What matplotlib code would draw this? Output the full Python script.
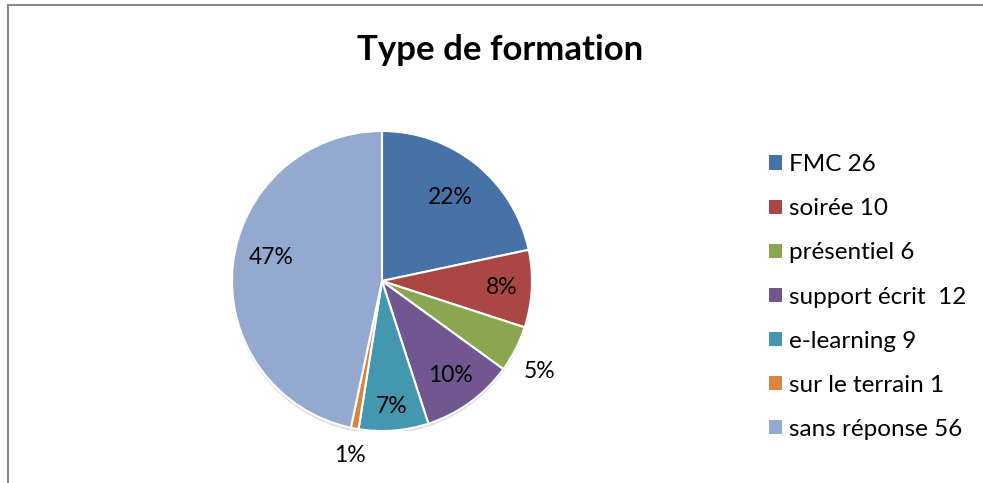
import numpy as np
import matplotlib.pyplot as plt
from matplotlib.lines import Line2D
from matplotlib.patches import Patch, Circle

plt.rcParams['font.family'] = ['Lato', 'DejaVu Sans']

# Data
categories = ['FMC 26', 'soirée 10', 'présentiel 6', 'support écrit  12',
              'e-learning 9', 'sur le terrain 1', 'sans réponse 56']
values = [26, 10, 6, 12, 9, 1, 56]
pct_labels = ['22%', '8%', '5%', '10%', '7%', '1%', '47%']
colors = ['#4672A8', '#AA4744', '#8AA650', '#71578F', '#4397AF', '#DB843D', '#94A9D0']

# label placement (fraction of radius, angle tweak in degrees)
label_radius = [0.72, 0.80, 1.21, 0.78, 0.84, 1.18, 0.755]
label_shift = [0, 0, -3, 0, 0, 0, -6]

W, H = 983, 483
fig = plt.figure(figsize=(W / 100, H / 100), dpi=100)

# pie axes: centre (382, 281) px, radius 150 px
cx, cy, r = 382, 281, 150
ax = fig.add_axes([(cx - r) / W, (H - cy - r) / H, 2 * r / W, 2 * r / H])

# soft shadow
ax.add_patch(Circle((0.0, -0.02), 1.0, color='#000000', alpha=0.12, zorder=0, lw=0))

wedges, _ = ax.pie(values, colors=colors, startangle=90, counterclock=False, radius=1.0,
                   wedgeprops=dict(edgecolor='white', linewidth=1.5))
ax.set_xlim(-1.0, 1.0)
ax.set_ylim(-1.0, 1.0)
ax.set_aspect('equal')
ax.axis('off')

for w, lab, rr, sh in zip(wedges, pct_labels, label_radius, label_shift):
    ang = np.deg2rad((w.theta1 + w.theta2) / 2 + sh)
    ax.text(rr * np.cos(ang), rr * np.sin(ang), lab, ha='center', va='center',
            fontsize=16.5, color='black', clip_on=False)

# title
fig.text(500 / W, 1 - 50 / H, 'Type de formation', ha='center', va='center',
         fontsize=25, fontweight='bold')

# legend
handles = [Patch(facecolor=c, edgecolor='none') for c in colors]
fig.legend(handles, categories, loc='center left', bbox_to_anchor=(757 / W, 1 - 297 / H),
           frameon=False, fontsize=17.5, handlelength=0.53, handleheight=0.53,
           handletextpad=0.3, labelspacing=0.95, borderpad=0)

# chart border (only top and left visible)
fig.add_artist(Line2D([8 / W, 8 / W], [0, 1 - 5 / H], color='#888888', lw=1.5))
fig.add_artist(Line2D([8 / W, 1], [1 - 5 / H, 1 - 5 / H], color='#888888', lw=1.5))

fig.savefig('out.png', dpi=100)
